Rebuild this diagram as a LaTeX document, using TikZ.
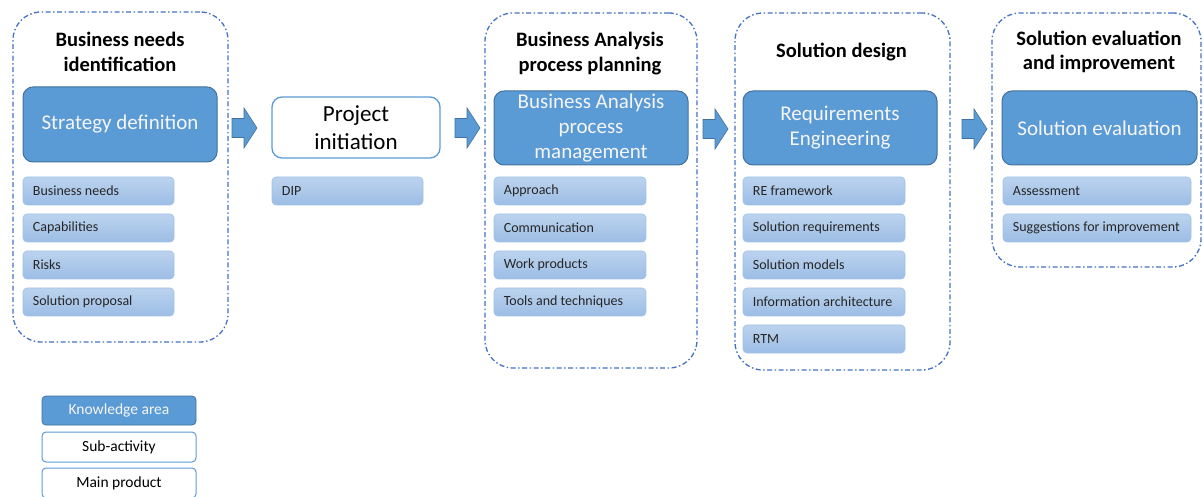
\documentclass[tikz,border=0pt]{standalone}
\usepackage{fontspec}
\setmainfont{Carlito}
\definecolor{kfill}{RGB}{91,155,213}
\definecolor{kdraw}{RGB}{65,113,156}
\definecolor{cline}{RGB}{68,114,196}
\definecolor{stop}{RGB}{188,211,238}
\definecolor{sbot}{RGB}{156,189,229}
\definecolor{sdraw}{RGB}{160,192,230}
\definecolor{ktext}{RGB}{245,245,245}
\tikzset{
  container/.style={draw=cline, line width=1.3pt, dash pattern=on 5pt off 2.5pt on 1.5pt off 2.5pt, rounded corners=28pt, inner sep=0pt, outer sep=0pt},
  karea/.style={draw=kdraw, fill=kfill, line width=1pt, rounded corners=10pt, inner sep=0pt, outer sep=0pt, text=ktext, align=center, font=\fontsize{21}{25}\selectfont},
  subact/.style={draw=kfill, fill=white, line width=1.3pt, rounded corners=10pt, inner sep=0pt, align=center, font=\fontsize{23}{28.5}\selectfont},
  prod/.style={draw=sdraw, top color=stop, bottom color=sbot, line width=0.6pt, rounded corners=4pt, inner sep=0pt, minimum height=28pt},
  ptext/.style={anchor=west, inner sep=0pt, font=\fontsize{14}{16}\selectfont, text=black!85},
  title/.style={align=center, inner sep=0pt, font=\bfseries\fontsize{20.5}{24.5}\selectfont},
  legk/.style={draw=kdraw, fill=kfill, line width=0.8pt, rounded corners=4pt, inner sep=0pt, minimum width=154pt, text=ktext, font=\fontsize{15.5}{18}\selectfont},
  legw/.style={draw=kfill, fill=white, line width=1pt, rounded corners=4pt, inner sep=0pt, minimum width=154pt, text=black, font=\fontsize{15.5}{18}\selectfont},
  barrow/.pic={\fill[kfill, draw=kdraw, line width=0.6pt] (0,-9.5) -- (12,-9.5) -- (12,-20) -- (25,0) -- (12,20) -- (12,9.5) -- (0,9.5) -- cycle;}
}
\begin{document}
\begin{tikzpicture}[x=1pt,y=-1pt]
\useasboundingbox (0,0) rectangle (1203,497);
% containers
\node[container, minimum width=215pt, minimum height=330pt] (c1) at (120.5,177) {};
\node[container, minimum width=212pt, minimum height=355pt] (c2) at (591,190.5) {};
\node[container, minimum width=215pt, minimum height=357pt] (c3) at (842.5,191.5) {};
\node[container, minimum width=209pt, minimum height=254pt] (c4) at (1096.5,140) {};
% titles
\node[title] (t1) at (120,52) {Business needs\\identification};
\node[title] (t2) at (590,53.5) {Business Analysis\\process planning};
\node[title] (t3) at (841.5,52) {Solution design};
\node[title] (t4) at (1099,52) {Solution evaluation\\and improvement};
% knowledge areas
\node[karea, minimum width=194pt, minimum height=75pt] (k1) at (120,124.5) {Strategy definition};
\node[karea, minimum width=194pt, minimum height=74pt] (k2) at (591,128) {Business Analysis\\process\\management};
\node[karea, minimum width=194pt, minimum height=74pt] (k3) at (840,128) {Requirements\\Engineering};
\node[karea, minimum width=195pt, minimum height=74pt] (k4) at (1099.5,128) {Solution evaluation};
% sub-activity
\node[subact, minimum width=168pt, minimum height=61pt] (p) at (356,127.5) {Project\\initiation};
% products column 1
\node[prod, minimum width=151pt] (a1) at (98.5,191) {};
\node[prod, minimum width=151pt] (a2) at (98.5,228) {};
\node[prod, minimum width=151pt] (a3) at (98.5,265) {};
\node[prod, minimum width=151pt] (a4) at (98.5,302) {};
\node[ptext] at ([xshift=10pt]a1.west) {Business needs};
\node[ptext] at ([xshift=10pt]a2.west) {Capabilities};
\node[ptext] at ([xshift=10pt]a3.west) {Risks};
\node[ptext] at ([xshift=10pt]a4.west) {Solution proposal};
% DIP
\node[prod, minimum width=151pt] (d1) at (347.5,191) {};
\node[ptext] at ([xshift=10pt]d1.west) {DIP};
% column 3
\node[prod, minimum width=152pt] (b1) at (570,191) {};
\node[prod, minimum width=152pt] (b2) at (570,228) {};
\node[prod, minimum width=152pt] (b3) at (570,265) {};
\node[prod, minimum width=152pt] (b4) at (570,302) {};
\node[ptext] at ([xshift=10pt]b1.west) {Approach};
\node[ptext] at ([xshift=10pt]b2.west) {Communication};
\node[ptext] at ([xshift=10pt]b3.west) {Work products};
\node[ptext] at ([xshift=10pt]b4.west) {Tools and techniques};
% column 4
\node[prod, minimum width=162pt] (e1) at (824,191) {};
\node[prod, minimum width=162pt] (e2) at (824,228) {};
\node[prod, minimum width=162pt] (e3) at (824,265) {};
\node[prod, minimum width=162pt] (e4) at (824,302) {};
\node[prod, minimum width=162pt] (e5) at (824,339) {};
\node[ptext] at ([xshift=10pt]e1.west) {RE framework};
\node[ptext] at ([xshift=10pt]e2.west) {Solution requirements};
\node[ptext] at ([xshift=10pt]e3.west) {Solution models};
\node[ptext] at ([xshift=10pt]e4.west) {Information architecture};
\node[ptext] at ([xshift=10pt]e5.west) {RTM};
% column 5
\node[prod, minimum width=188pt] (f1) at (1097,191) {};
\node[prod, minimum width=188pt] (f2) at (1097,228) {};
\node[ptext] at ([xshift=10pt]f1.west) {Assessment};
\node[ptext] at ([xshift=10pt]f2.west) {Suggestions for improvement};
% block arrows
\pic (ar1) at (232,128) {barrow};
\pic (ar2) at (455,128) {barrow};
\pic (ar3) at (703,129) {barrow};
\pic (ar4) at (962,129) {barrow};
% legend
\node[legk, minimum height=29pt] (l1) at (119,410.5) {Knowledge area};
\node[legw, minimum height=30pt] (l2) at (119,447) {Sub-activity};
\node[legw, minimum height=30pt] (l3) at (119,483) {Main product};
\end{tikzpicture}
\end{document}
